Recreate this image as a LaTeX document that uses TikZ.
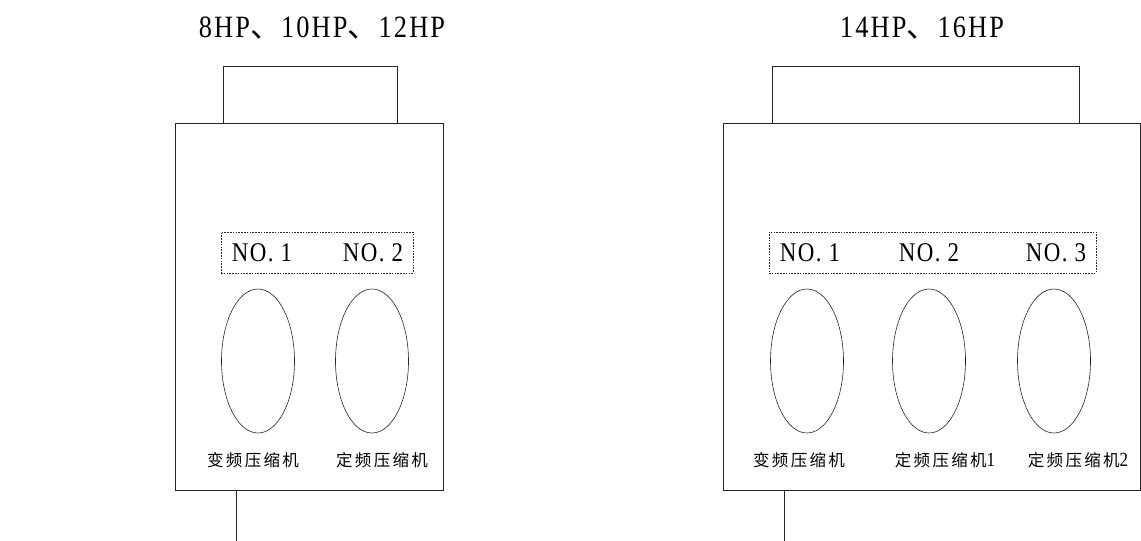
\documentclass[tikz,border=0pt]{standalone}
\usepackage{fontspec}
\setmainfont{Liberation Serif}[FakeStretch=0.85]
\newfontfamily\cjk{Noto Sans CJK SC}
\newfontfamily\cjklab{Noto Sans CJK SC}[LetterSpace=14]
\usetikzlibrary{shapes.geometric, positioning}

\begin{document}
\begin{tikzpicture} [%
    x = 1pt,
    y = -1pt,
    line width = 0.6pt,
    draw = black!85,
    every node/.style = {inner sep = 0pt},
    box/.style = {%
      draw,
      rectangle },
    slot/.style = {%
      draw,
      rectangle,
      dashed,
      dash pattern = on 1.6pt off 1.2pt,
      line width = 0.5pt },
    comp/.style = {%
      draw,
      ellipse,
      minimum width = 73pt,
      minimum height = 144pt },
    title/.style = {font = \fontsize{31}{31}\selectfont\addfontfeature{LetterSpace=7}},
    num/.style = {font = \fontsize{27}{27}\selectfont\addfontfeature{LetterSpace=5}},
    lab/.style = {font = \fontsize{16.5}{16.5}\cjklab},
    dig/.style = {font = \fontsize{20}{20}\rmfamily}
  ]

  \useasboundingbox (0,0) rectangle (1141,541);

  % 8HP, 10HP, 12HP
  \node[title] (TL) at (322,28) {8HP{\cjk 、}10HP{\cjk 、}12HP};
  \node[box, minimum width=174pt, minimum height=57pt] (UL) at (310,94.5) {};
  \node[box, minimum width=268pt, minimum height=367pt] (BL) at (309,306.5) {};
  \node[slot, minimum width=192pt, minimum height=41pt] (SL) at (317,252.5) {};
  \node[num] (L1) at (262,253) {NO. 1};
  \node[num] (L2) at (373,253) {NO. 2};
  \node[comp] (EL1) at (258,361) {};
  \node[comp] (EL2) at (372,361) {};
  \node[lab] (CL1) at (253,460) {变频压缩机};
  \node[lab] (CL2) at (382,460) {定频压缩机};
  \coordinate (PL) at (236,541);
  \draw (BL.south -| PL) -- (PL);

  % 14HP, 16HP
  \node[title] (TR) at (922,28) {14HP{\cjk 、}16HP};
  \node[box, minimum width=307pt, minimum height=57pt] (UR) at (925.5,94.5) {};
  \node[box, minimum width=417pt, minimum height=367pt] (BR) at (931.5,306.5) {};
  \node[slot, minimum width=327pt, minimum height=41pt] (SR) at (932.5,252.5) {};
  \node[num] (R1) at (810,253) {NO. 1};
  \node[num] (R2) at (929,253) {NO. 2};
  \node[num] (R3) at (1056,253) {NO. 3};
  \node[comp] (ER1) at (807,361) {};
  \node[comp] (ER2) at (929,361) {};
  \node[comp] (ER3) at (1054,361) {};
  \node[lab] (CR1) at (799,460) {变频压缩机};
  \node[lab] (CR2) at (945,460) {定频压缩机{\fontsize{20}{20}\rmfamily 1}};
  \node[lab] (CR3) at (1078,460) {定频压缩机{\fontsize{20}{20}\rmfamily 2}};
  \coordinate (PR) at (784,541);
  \draw (BR.south -| PR) -- (PR);

\end{tikzpicture}
\end{document}
